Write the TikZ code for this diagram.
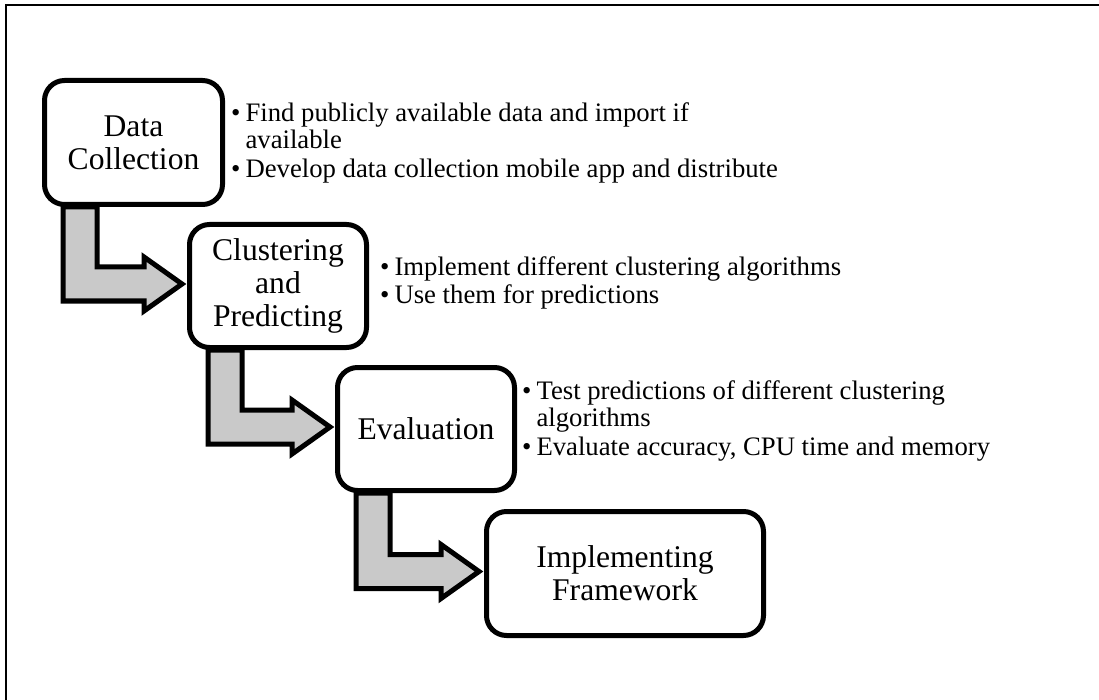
\documentclass[tikz,border=0pt]{standalone}
\usepackage{fontspec}
\setmainfont{Liberation Serif}
\usetikzlibrary{calc,backgrounds}

% bent block arrow from the bottom of one stage to the left side of the next
\newcommand{\stagearrow}[2]{%
  \path let \p1 = (#1.south west), \p2 = (#1.south), \p3 = (#2.west) in
    coordinate (vl) at (\x1+21, \y2)
    coordinate (tip) at (\x3-5, \y3+2);
  \draw[bentarrow]
    (vl) -- ++(34,0) |- ($(tip)+(-38,17)$) -- ($(tip)+(-38,27)$) -- (tip)
    -- ($(tip)+(-38,-27)$) -- ($(tip)+(-38,-17)$) -| (vl) -- cycle;
}

\begin{document}
\begin{tikzpicture}[x=1pt,y=1pt,
  stage/.style={draw=black, line width=5pt, rounded corners=20pt, fill=white,
    align=center, inner sep=0pt, font=\fontsize{31.6}{33}\selectfont},
  bentarrow/.style={draw=black, line width=5pt, fill=black!21, line join=miter},
  notes/.style={anchor=base west, inner sep=0pt,
    font=\fontsize{26.7}{27}\selectfont}]

\useasboundingbox (0,0) rectangle (1099,-700);

% page frame
\draw[line width=2pt] (1099,-5) -- (6,-5) -- (6,-700);

% stages
\node[stage, minimum width=178pt, minimum height=124pt] (collect) at (133.5,-142.5) {Data\\Collection};
\node[stage, minimum width=177pt, minimum height=123pt] (cluster) at (278,-286) {Clustering\\and\\Predicting};
\node[stage, minimum width=177pt, minimum height=123pt] (evaluate) at (426,-429) {Evaluation};
\node[stage, minimum width=277pt, minimum height=124pt] (framework) at (625,-573.5) {Implementing\\Framework};

% arrows behind the stages
\begin{scope}[on background layer]
  \stagearrow{collect}{cluster}
  \stagearrow{cluster}{evaluate}
  \stagearrow{evaluate}{framework}
\end{scope}

% task lists
\node[notes] (collectnotes) at (231,-122) {\begin{tabular}[t]{@{}l@{\hspace{5pt}}l@{}}
  •&Find publicly available data and import if\\
   &available\\[2pt]
  •&Develop data collection mobile app and distribute
\end{tabular}};
\node[notes] (clusternotes) at (380,-276) {\begin{tabular}[t]{@{}l@{\hspace{5pt}}l@{}}
  •&Implement different clustering algorithms\\[1pt]
  •&Use them for predictions
\end{tabular}};
\node[notes] (evalnotes) at (522,-399) {\begin{tabular}[t]{@{}l@{\hspace{5pt}}l@{}}
  •&Test predictions of different clustering\\
   &algorithms\\[2pt]
  •&Evaluate accuracy, CPU time and memory
\end{tabular}};

\end{tikzpicture}
\end{document}
